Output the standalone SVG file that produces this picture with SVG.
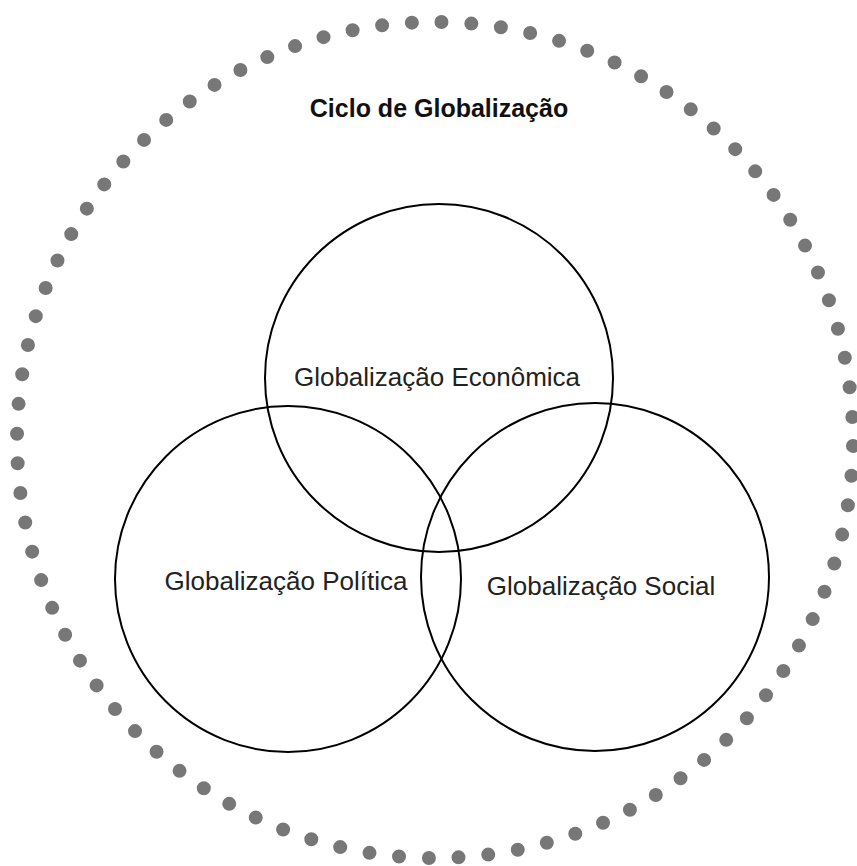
<svg xmlns="http://www.w3.org/2000/svg" width="857" height="866" viewBox="0 0 857 866">
<style>
.ring{fill:none;stroke:#000;stroke-width:2}
.lbl{font-family:"Liberation Sans",Arial,sans-serif;font-size:26px;fill:#222;text-anchor:middle}
.title{font-family:"Liberation Sans",Arial,sans-serif;font-size:25px;font-weight:bold;fill:#111;text-anchor:middle}
</style>
<rect width="857" height="866" fill="#fff"/>
<g id="outer">
<circle cx="435" cy="440" r="418" fill="none" stroke="#777" stroke-width="14" stroke-linecap="round" stroke-dasharray="0 29.845" stroke-dashoffset="-6"/>
<text class="title" x="439" y="117">Ciclo de Globalização</text>
</g>
<g id="economica">
<circle class="ring" cx="439" cy="378" r="174"/>
<text class="lbl" x="437" y="386">Globalização Econômica</text>
</g>
<g id="politica">
<circle class="ring" cx="288" cy="579" r="173"/>
<text class="lbl" x="286" y="590">Globalização Política</text>
</g>
<g id="social">
<circle class="ring" cx="595" cy="577" r="174"/>
<text class="lbl" x="601" y="595">Globalização Social</text>
</g>
<g id="connectors"/>
</svg>
